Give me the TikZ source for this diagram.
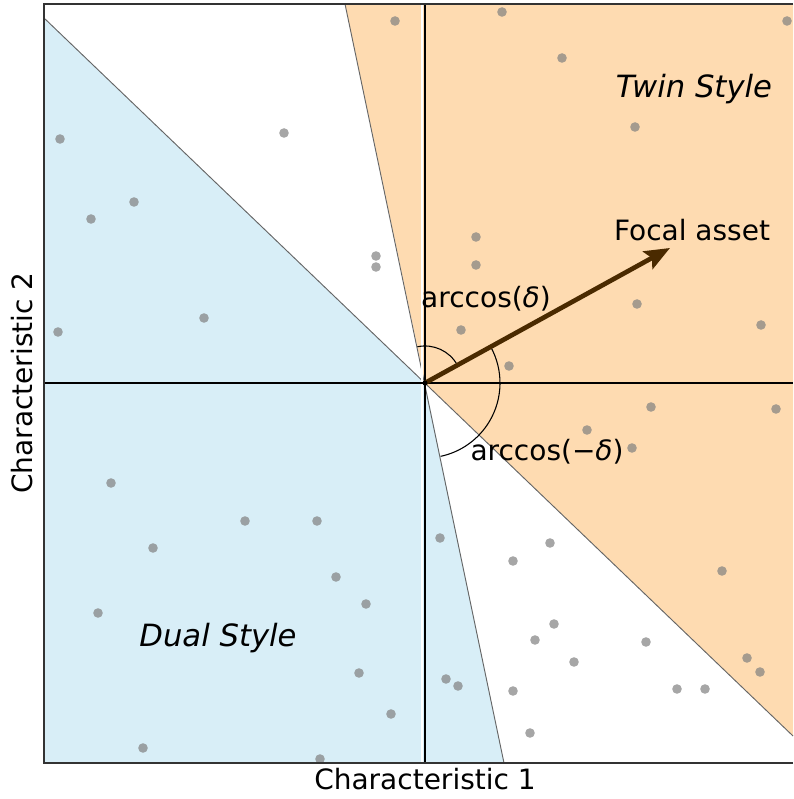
\documentclass[tikz,border=0pt]{standalone}
\usepackage{fontspec}
\setmainfont{DejaVu Sans}
\usetikzlibrary{arrows.meta}
\definecolor{blueR}{HTML}{D8EEF7}
\definecolor{orangeR}{HTML}{FEDBB1}
\definecolor{arrowC}{HTML}{4A2A00}
\definecolor{ptC}{HTML}{808080}
\tikzset{
  region/.style={draw=black!60, line width=0.7pt},
  pt/.style={circle, fill=ptC, fill opacity=0.7, inner sep=0pt, minimum size=7.2pt},
  lab/.style={font=\fontsize{21}{25}\selectfont, inner sep=0pt},
  ilab/.style={font=\fontsize{23}{27}\selectfont\itshape, inner sep=0pt},
  arc/.style={line width=0.8pt, black}
}
\begin{document}
\begin{tikzpicture}[x=0.75pt,y=0.75pt]
\useasboundingbox (0,0) rectangle (793,799);
% key coordinates
\coordinate (O) at (425,416);
\coordinate (Atop) at (345,795);
\coordinate (Abot) at (504,36);
\coordinate (Bl) at (44,781);
\coordinate (Br) at (793,63);
\coordinate (BL) at (44,36);
\coordinate (TR) at (793,795);
\coordinate (TL) at (44,795);
\coordinate (BR) at (793,36);
% regions
\fill[blueR] (Bl) -- (O) -- (Abot) -- (BL) -- cycle;
\fill[orangeR] (Atop) -- (O) -- (Br) -- (TR) -- cycle;
\draw[region] (Bl) -- (Br);
\draw[region] (Atop) -- (Abot);
% points
\begin{scope}
\clip (BL) rectangle (TR);
\foreach \p [count=\i] in {(395,778),(502,787),(562,741),(787,778),(635,672),(284,666),(60,660),(91,580),(134,597),(476,562),(376,543),(376,532),(476,534),(637,495),(204,481),(58,467),(461,469),(761,474),(509,433),(651,392),(776,390),(587,369),(632,351),(111,316),(245,278),(317,278),(153,251),(440,261),(550,256),(513,238),(336,222),(722,228),(366,195),(98,186),(554,175),(535,159),(646,157),(574,137),(747,141),(760,127),(359,126),(446,120),(458,113),(513,108),(677,110),(705,110),(391,85),(530,66),(143,51),(320,40)}
  \node[pt] (p\i) at \p {};
\end{scope}
% axis lines through origin
\coordinate (Vt) at (425,795);
\coordinate (Vb) at (425,36);
\coordinate (Hl) at (44,416);
\coordinate (Hr) at (793,416);
\draw[white, line width=1.4pt] ([xshift=-2.4pt]Vt) -- ([xshift=-2.4pt]Vb);
\draw[black, line width=1pt] (Vt) -- (Vb);
\draw[black, line width=1pt] (Hl) -- (Hr);
% angle arcs
\draw[arc] ([shift={(29:37)}]O) arc[start angle=29, end angle=102, radius=37];
\draw[arc] ([shift={(29:75)}]O) arc[start angle=29, end angle=-78, radius=75];
% arrow
\coordinate (tip) at (670,551);
\draw[arrowC, line width=3.5pt, -{Stealth[length=19pt, width=15pt, inset=3.5pt]}] (O) -- (tip);
\fill[black] (O) circle (2.5);
% labels
\node[ilab] (twin) at (694,710) {Twin Style};
\node[ilab] (dual) at (218,161) {Dual Style};
\node[lab] (focal) at (692,569) {Focal asset};
\node[lab] (ad) at (486,500) {arccos(\textit{δ})};
\node[lab] (amd) at (547,347) {arccos(−\textit{δ})};
\node[lab] (x1) at (425,20) {Characteristic 1};
\node[lab, rotate=90] (x2) at (22,416) {Characteristic 2};
% spines
\draw[black!80, line width=1pt] (BR) -- (BL) -- (TL) -- (TR);
\end{tikzpicture}
\end{document}
